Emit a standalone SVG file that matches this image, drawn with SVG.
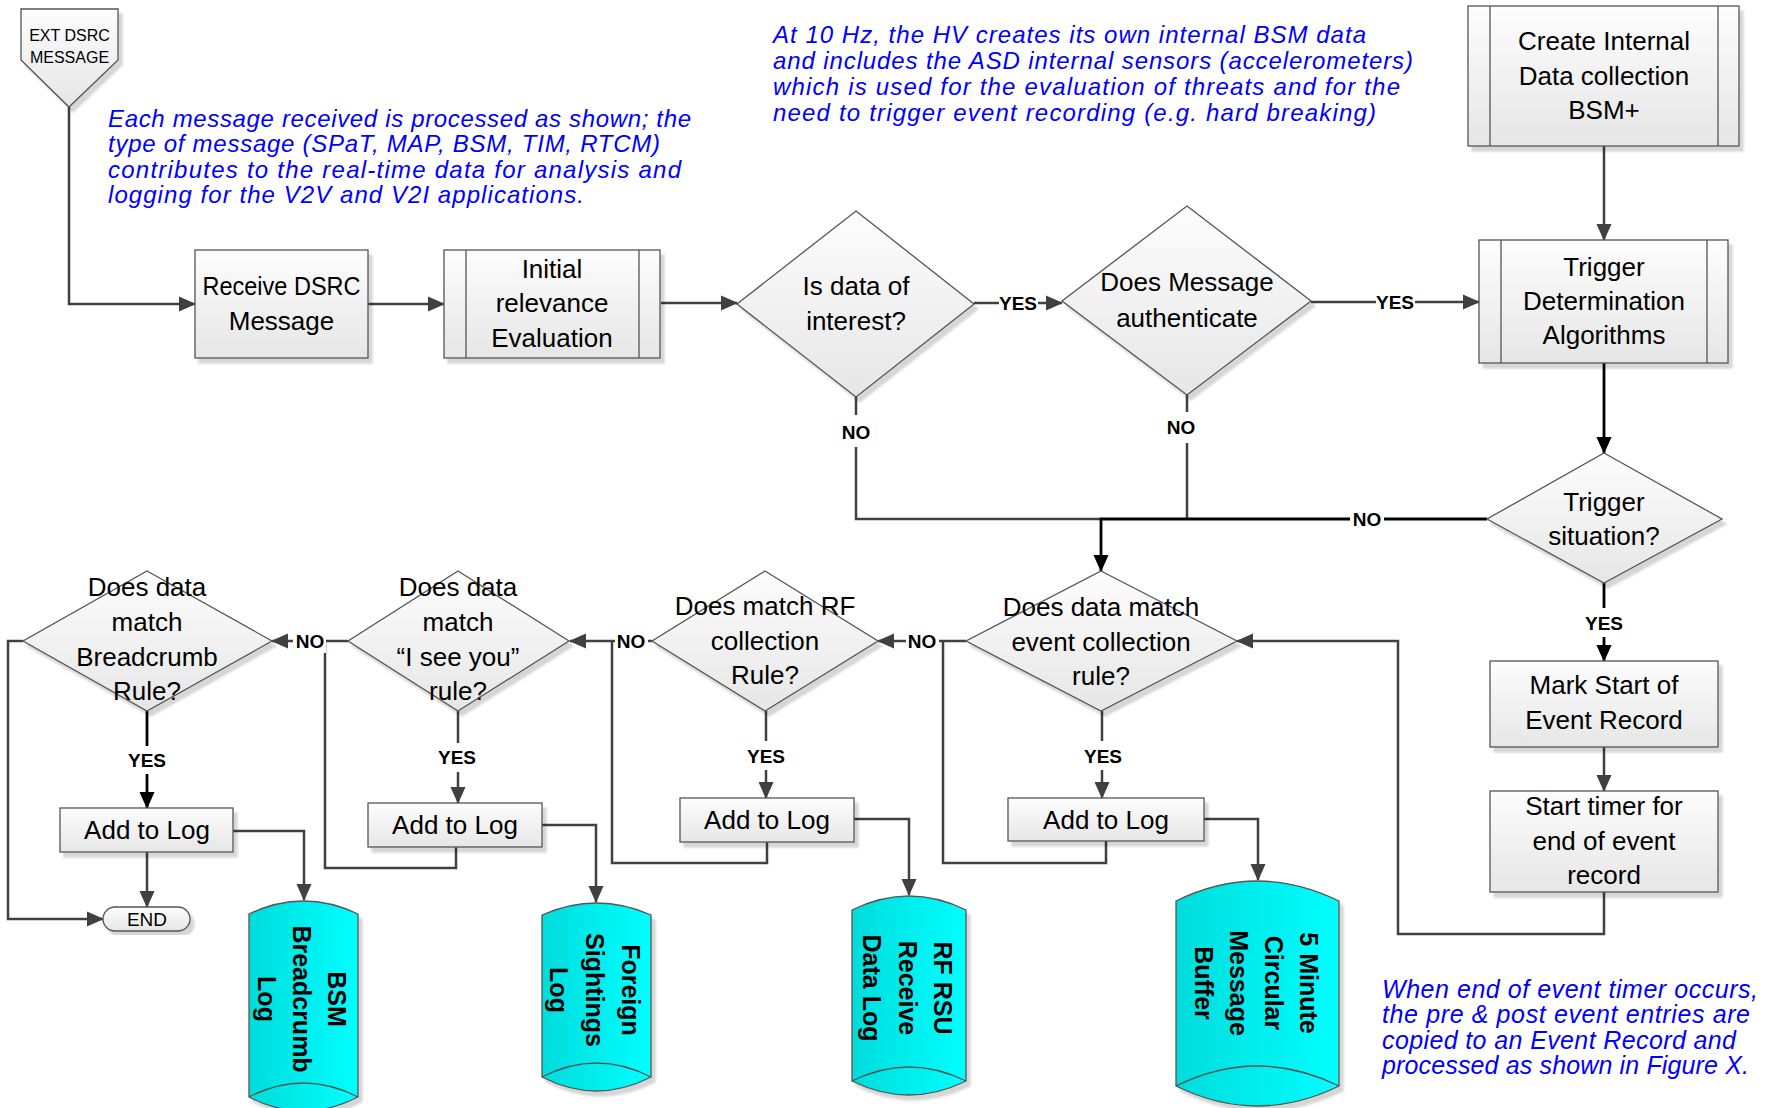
<svg xmlns="http://www.w3.org/2000/svg" width="1765" height="1108" viewBox="0 0 1765 1108">
<style>
.sh{fill:url(#gf);stroke:#555;stroke-width:1.3;filter:url(#sh)}
.cy{fill:url(#gc);stroke:#555;stroke-width:1.3;filter:url(#sh)}
.in{fill:none;stroke:#555;stroke-width:1.3}
.t{font-family:"Liberation Sans",Arial,sans-serif;font-size:26px;fill:#000;text-anchor:middle}
.ct{font-family:"Liberation Sans",Arial,sans-serif;font-size:25px;font-weight:bold;fill:#000;text-anchor:middle}
.lb{font-family:"Liberation Sans",Arial,sans-serif;font-size:19px;font-weight:bold;fill:#000;text-anchor:middle}
.note{font-family:"Liberation Sans",Arial,sans-serif;font-size:24px;font-style:italic;fill:#0000ff}
.c{fill:none;stroke:#404040;stroke-width:2.5}
.cb{fill:none;stroke:#000;stroke-width:2.8}
.bg{fill:#fff}
</style>
<defs>
<linearGradient id="gf" x1="0" y1="0" x2="0" y2="1"><stop offset="0" stop-color="#fdfdfd"/><stop offset="1" stop-color="#e6e6e6"/></linearGradient>
<linearGradient id="gc" x1="0" y1="0" x2="1" y2="0"><stop offset="0" stop-color="#00dcdc"/><stop offset="1" stop-color="#00ffff"/></linearGradient>
<filter id="sh" x="-10%" y="-10%" width="125%" height="125%"><feDropShadow dx="4" dy="5" stdDeviation="1.2" flood-color="#000" flood-opacity="0.16"/></filter>
<marker id="a" markerUnits="userSpaceOnUse" markerWidth="17" markerHeight="16" viewBox="0 0 17 16" refX="16" refY="8" orient="auto"><path d="M0,0.5 L17,8 L0,15.5 z" fill="#404040"/></marker>
<marker id="ab" markerUnits="userSpaceOnUse" markerWidth="17" markerHeight="16" viewBox="0 0 17 16" refX="16" refY="8" orient="auto"><path d="M0,0.5 L17,8 L0,15.5 z" fill="#000"/></marker>
</defs>
<rect width="1765" height="1108" fill="#fff"/>

<!-- annotations -->
<g id="note1" class="note">
<text x="108" y="127" textLength="583">Each message received is processed as shown; the</text>
<text x="108" y="152" textLength="552">type of message (SPaT, MAP, BSM, TIM, RTCM)</text>
<text x="108" y="178" textLength="573">contributes to the real-time data for analysis and</text>
<text x="108" y="203" textLength="476">logging for the V2V and V2I applications.</text>
</g>
<g id="note2" class="note">
<text x="773" y="43" textLength="593">At 10 Hz, the HV creates its own internal BSM data</text>
<text x="773" y="69" textLength="640">and includes the ASD internal sensors (accelerometers)</text>
<text x="773" y="95" textLength="627">which is used for the evaluation of threats and for the</text>
<text x="773" y="121" textLength="603">need to trigger event recording (e.g. hard breaking)</text>
</g>
<g id="note3" class="note" style="font-size:25px">
<text x="1382" y="998" textLength="376">When end of event timer occurs,</text>
<text x="1382" y="1023" textLength="368">the pre &amp; post event entries are</text>
<text x="1382" y="1049" textLength="354">copied to an Event Record and</text>
<text x="1382" y="1074" textLength="367">processed as shown in Figure X.</text>
</g>

<!-- connectors -->
<g id="connectors">
<path class="c" d="M69,107 V304 H195" marker-end="url(#a)"/>
<path class="c" d="M368,304 H444" marker-end="url(#a)"/>
<path class="c" d="M661,303 H737" marker-end="url(#a)"/>
<path class="c" d="M974,303 H1062" marker-end="url(#a)"/>
<path class="c" d="M1311,302 H1479" marker-end="url(#a)"/>
<path class="c" d="M1604,146 V240" marker-end="url(#a)"/>
<path class="cb" d="M1604,363 V453" marker-end="url(#ab)"/>
<path class="c" d="M856,397 V519 H1101"/>
<path class="c" d="M1187,395 V519"/>
<path class="cb" d="M1487,519 H1101 V571" marker-end="url(#ab)"/>
<path class="cb" d="M1604,583 V661" marker-end="url(#ab)"/>
<path class="c" d="M1604,747 V791" marker-end="url(#a)"/>
<path class="c" d="M1604,892 V934 H1398 V641 H1237" marker-end="url(#a)"/>
<path class="c" d="M966,641 H878" marker-end="url(#a)"/>
<path class="c" d="M1102,711 V798" marker-end="url(#a)"/>
<path class="c" d="M1204,819 H1258 V880" marker-end="url(#a)"/>
<path class="c" d="M1106,841 V863 H943 V641"/>
<path class="c" d="M652,641 H570" marker-end="url(#a)"/>
<path class="c" d="M766,711 V798" marker-end="url(#a)"/>
<path class="c" d="M854,819 H909 V895" marker-end="url(#a)"/>
<path class="c" d="M767,842 V863 H612 V641"/>
<path class="c" d="M348,641 H272" marker-end="url(#a)"/>
<path class="c" d="M458,711 V803" marker-end="url(#a)"/>
<path class="c" d="M542,825 H596 V902" marker-end="url(#a)"/>
<path class="c" d="M456,847 V868 H325 V641"/>
<path class="cb" d="M147,711 V808" marker-end="url(#ab)"/>
<path class="c" d="M233,831 H304 V900" marker-end="url(#a)"/>
<path class="c" d="M147,852 V907" marker-end="url(#a)"/>
<path class="c" d="M23,641 H8 V919 H103" marker-end="url(#a)"/>
<!-- labels -->
<rect class="bg" x="999" y="291" width="39" height="24"/><text class="lb" x="1018" y="310">YES</text>
<rect class="bg" x="1376" y="290" width="39" height="24"/><text class="lb" x="1395" y="309">YES</text>
<rect class="bg" x="840" y="415" width="32" height="32"/><text class="lb" x="856" y="439">NO</text>
<rect class="bg" x="1165" y="412" width="32" height="31"/><text class="lb" x="1181" y="434">NO</text>
<rect class="bg" x="1350" y="507" width="34" height="24"/><text class="lb" x="1367" y="526">NO</text>
<rect class="bg" x="1585" y="608" width="38" height="29"/><text class="lb" x="1604" y="630">YES</text>
<rect class="bg" x="128" y="746" width="38" height="28"/><text class="lb" x="147" y="767">YES</text>
<rect class="bg" x="438" y="743" width="38" height="29"/><text class="lb" x="457" y="764">YES</text>
<rect class="bg" x="747" y="741" width="38" height="29"/><text class="lb" x="766" y="763">YES</text>
<rect class="bg" x="1084" y="741" width="38" height="29"/><text class="lb" x="1103" y="763">YES</text>
<rect class="bg" x="293" y="629" width="33" height="24"/><text class="lb" x="310" y="648">NO</text>
<rect class="bg" x="615" y="629" width="33" height="24"/><text class="lb" x="631" y="648">NO</text>
<rect class="bg" x="906" y="629" width="33" height="24"/><text class="lb" x="922" y="648">NO</text>
</g>

<!-- nodes -->
<g id="ext-dsrc">
<path class="sh" d="M21,9 H118 V60 L69,107 L21,60 Z"/>
<text class="t" style="font-size:16px" x="69.5" y="41">EXT DSRC</text>
<text class="t" style="font-size:16px" x="69.5" y="63">MESSAGE</text>
</g>
<g id="receive">
<rect class="sh" x="195" y="250" width="173" height="108"/>
<text class="t" x="281.5" y="295" textLength="158" lengthAdjust="spacingAndGlyphs">Receive DSRC</text>
<text class="t" x="281.5" y="330">Message</text>
</g>
<g id="initial">
<rect class="sh" x="444" y="250" width="216" height="108"/>
<path class="in" d="M466,250 V358 M639,250 V358"/>
<text class="t" x="552" y="278">Initial</text>
<text class="t" x="552" y="312">relevance</text>
<text class="t" x="552" y="347">Evaluation</text>
</g>
<g id="is-data">
<path class="sh" d="M856,211 L974,304 L856,397 L737,304 Z"/>
<text class="t" x="856" y="295">Is data of</text>
<text class="t" x="856" y="330">interest?</text>
</g>
<g id="authenticate">
<path class="sh" d="M1187,206 L1311,301 L1187,395 L1062,301 Z"/>
<text class="t" x="1187" y="291">Does Message</text>
<text class="t" x="1187" y="327">authenticate</text>
</g>
<g id="create-internal">
<rect class="sh" x="1468" y="6" width="271" height="140"/>
<path class="in" d="M1490,6 V146 M1718,6 V146"/>
<text class="t" x="1604" y="50">Create Internal</text>
<text class="t" x="1604" y="85">Data collection</text>
<text class="t" x="1604" y="119">BSM+</text>
</g>
<g id="trigger-det">
<rect class="sh" x="1479" y="240" width="249" height="123"/>
<path class="in" d="M1501,240 V363 M1707,240 V363"/>
<text class="t" x="1604" y="276">Trigger</text>
<text class="t" x="1604" y="310">Determination</text>
<text class="t" x="1604" y="344">Algorithms</text>
</g>
<g id="trigger-sit">
<path class="sh" d="M1604,453 L1722,519 L1604,583 L1487,519 Z"/>
<text class="t" x="1604" y="511">Trigger</text>
<text class="t" x="1604" y="545">situation?</text>
</g>
<g id="mark-start">
<rect class="sh" x="1490" y="661" width="228" height="86"/>
<text class="t" x="1604" y="694">Mark Start of</text>
<text class="t" x="1604" y="729">Event Record</text>
</g>
<g id="start-timer">
<rect class="sh" x="1490" y="791" width="228" height="101"/>
<text class="t" x="1604" y="815">Start timer for</text>
<text class="t" x="1604" y="850">end of event</text>
<text class="t" x="1604" y="884">record</text>
</g>
<g id="event-rule">
<path class="sh" d="M1101,571 L1237,641 L1101,711 L966,641 Z"/>
<text class="t" x="1101" y="616">Does data match</text>
<text class="t" x="1101" y="651">event collection</text>
<text class="t" x="1101" y="685">rule?</text>
</g>
<g id="rf-rule">
<path class="sh" d="M765,571 L878,641 L765,711 L652,641 Z"/>
<text class="t" x="765" y="615">Does match RF</text>
<text class="t" x="765" y="650">collection</text>
<text class="t" x="765" y="684">Rule?</text>
</g>
<g id="iseeyou-rule">
<path class="sh" d="M458,571 L569,641 L458,711 L348,641 Z"/>
<text class="t" x="458" y="596">Does data</text>
<text class="t" x="458" y="631">match</text>
<text class="t" x="458" y="666">“I see you”</text>
<text class="t" x="458" y="700">rule?</text>
</g>
<g id="breadcrumb-rule">
<path class="sh" d="M147,571 L272,641 L147,711 L23,641 Z"/>
<text class="t" x="147" y="596">Does data</text>
<text class="t" x="147" y="631">match</text>
<text class="t" x="147" y="666">Breadcrumb</text>
<text class="t" x="147" y="700">Rule?</text>
</g>
<g id="log-event">
<rect class="sh" x="1008" y="798" width="196" height="43"/>
<text class="t" x="1106" y="829">Add to Log</text>
</g>
<g id="log-rf">
<rect class="sh" x="680" y="798" width="174" height="44"/>
<text class="t" x="767" y="829">Add to Log</text>
</g>
<g id="log-iseeyou">
<rect class="sh" x="368" y="803" width="174" height="44"/>
<text class="t" x="455" y="834">Add to Log</text>
</g>
<g id="log-breadcrumb">
<rect class="sh" x="60" y="808" width="173" height="44"/>
<text class="t" x="147" y="839">Add to Log</text>
</g>
<g id="end">
<rect class="sh" x="103" y="907" width="87" height="24" rx="12" ry="12"/>
<text class="t" style="font-size:19px" x="147" y="926">END</text>
</g>
<g id="bsm-log">
<path class="cy" d="M249,914 Q303.5,888 358,914 L358,1097 Q303.5,1125 249,1097 Z"/>
<path class="in" d="M249,1097 Q303.5,1069 358,1097"/>
<text class="ct" transform="translate(328,999) rotate(90)"><tspan x="0" y="0">BSM</tspan><tspan x="0" y="35">Breadcrumb</tspan><tspan x="0" y="70">Log</tspan></text>
</g>
<g id="foreign-log">
<path class="cy" d="M542,915 Q596.5,891 651,915 L651,1077 Q596.5,1105 542,1077 Z"/>
<path class="in" d="M542,1077 Q596.5,1049 651,1077"/>
<text class="ct" transform="translate(622,990) rotate(90)"><tspan x="0" y="0">Foreign</tspan><tspan x="0" y="36">Sightings</tspan><tspan x="0" y="72">Log</tspan></text>
</g>
<g id="rf-log">
<path class="cy" d="M852,910 Q909,882 966,910 L966,1081 Q909,1109 852,1081 Z"/>
<path class="in" d="M852,1081 Q909,1053 966,1081"/>
<text class="ct" transform="translate(934,988) rotate(90)"><tspan x="0" y="0">RF RSU</tspan><tspan x="0" y="35">Receive</tspan><tspan x="0" y="71">Data Log</tspan></text>
</g>
<g id="circular-buffer">
<path class="cy" d="M1176,901 Q1257.5,861 1339,901 L1339,1086 Q1257.5,1126 1176,1086 Z"/>
<path class="in" d="M1176,1086 Q1257.5,1046 1339,1086"/>
<text class="ct" transform="translate(1300,983) rotate(90)"><tspan x="0" y="0">5 Minute</tspan><tspan x="0" y="35">Circular</tspan><tspan x="0" y="70">Message</tspan><tspan x="0" y="105">Buffer</tspan></text>
</g>
</svg>
